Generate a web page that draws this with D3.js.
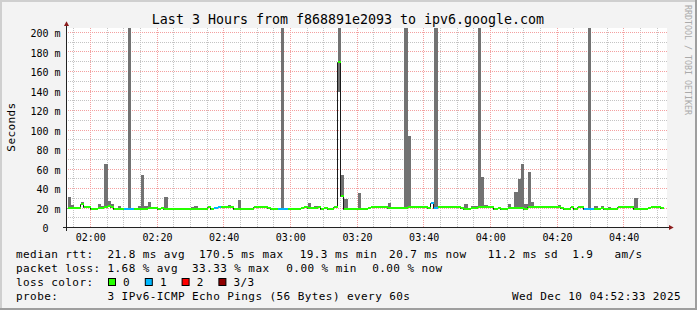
<!DOCTYPE html>
<html>
<head>
<meta charset="utf-8">
<script src="https://cdn.jsdelivr.net/npm/d3@7"></script>
<style>
  html, body { margin: 0; padding: 0; background: #f3f3f3; }
  svg { display: block; }
  svg text { font-family: "DejaVu Sans Mono", monospace; }
</style>
</head>
<body>
<svg id="chart" width="697" height="310"></svg>
<script>
const title = 'Last 3 Hours from f868891e2093 to ipv6.google.com';
const startTime = Date.UTC(2025, 11, 10, 1, 53);
const endTime = Date.UTC(2025, 11, 10, 4, 53);

// median rtt per minute (ms), starting 01:53
const medianRtt = [
  20.5, 20.5, 21, 21, 24.5, 21.8, 21.8, 19.3, 19.3, 20.8,
  20.8, 21.8, 22.5, 21.8, 19.8, 19.8, 19.8, 19.8, 19.8, 19.8,
  19.8, 19.8, 19.8, 19.8, 20.3, 20.3, 20.3, 19.3, 20.5, 19.8,
  19.8, 19.8, 19.8, 19.8, 19.8, 19.8, 19.8, 19.8, 19.8, 19.8,
  19.8, 19.8, 21.5, 19.8, 20.5, 21.8, 21.8, 21.8, 21.8, 21.8,
  19.3, 19.8, 19.8, 19.8, 19.8, 19.8, 21.8, 21.8, 21.8, 22,
  20.5, 19.8, 19.8, 19.8, 19.8, 19.8, 19.8, 19.8, 19.8, 19.3,
  20.5, 21.8, 21, 21, 20.5, 21.2, 19.8, 20.5, 19.8, 19.8,
  21.5, 170.5, 32.5, 19.5, 19.5, 19.3, 19.8, 19.8, 19.8, 19.3,
  20.5, 21.8, 21.8, 21.8, 21.8, 21.8, 21, 21, 21, 21,
  21, 21, 21.8, 21.8, 21.8, 21.8, 21.8, 21.8, 20.8, 25.3,
  20.5, 21.8, 21.8, 21.8, 21.8, 21.8, 21.8, 21.8, 20.5, 19.8,
  19.8, 20.5, 20.5, 21.8, 21.8, 21.8, 21.8, 21.8, 19.8, 20.3,
  19.8, 19.8, 20.8, 20.8, 20.8, 20.8, 20.8, 19.3, 21.8, 21.8,
  21.8, 21.8, 21.8, 21.8, 21.8, 21.8, 21.8, 21.8, 20.3, 19.5,
  19.5, 21.8, 19.5, 21.8, 21.8, 19.8, 19.8, 19.8, 19.8, 19.8,
  20.5, 19.8, 19.8, 19.8, 19.8, 21.2, 21.8, 21.8, 21.8, 21.8,
  19.8, 19.8, 19.8, 19.8, 20.5, 21.8, 21.8, 21.8, 20.7
];

// minutes where 1 of 3 pings was lost
const lossOneMinutes = [17, 18, 19, 44, 45, 63, 64, 65, 109, 110, 155, 156, 157];

// smoke (spread of the pings) where it shows above the median
const smokeMinutes = [0, 1, 4, 9, 10, 11, 12, 13, 15, 18, 21, 22, 23, 24, 29, 37, 38, 48, 51, 64,
  71, 72, 74, 81, 82, 83, 87, 96, 101, 102, 107, 110, 119, 121, 122, 123, 124, 125, 132, 134,
  135, 136, 137, 138, 139, 147, 156, 158, 160, 162, 165, 170];
const smokeLow = [20.5, 20.5, 24.5, 20.8, 20.8, 21.8, 22.5, 21.8, 19.8, 19.8, 19.8, 19.8, 19.8, 20.3, 19.8, 19.8, 19.8, 21.8, 19.8, 19.8,
  21.8, 21, 20.5, 140, 33, 19.5, 19.8, 21, 21, 21.8, 21.8, 20.5, 19.8, 20.5, 20.5, 21.8, 21.8, 21.8, 20.8, 20.8,
  20.8, 20.8, 19.3, 21.8, 21.8, 21.8, 19.8, 19.8, 20.5, 19.8, 21.2, 19.8];
const smokeHigh = [31.8, 23.6, 26.5, 24.6, 22.5, 65.6, 27.7, 24.6, 22.5, 260, 22.5, 54.4, 22.5, 26.7, 31.8, 21.5, 22.8, 23.5, 28.7, 260,
  23, 25.6, 23, 260, 54.4, 29.7, 36.2, 25.6, 260, 94.7, 22, 260, 24.6, 22.5, 22.5, 260, 52.3, 23.6, 24.6, 36.9,
  50.3, 65.6, 24.6, 57.4, 26.7, 23.6, 260, 22.5, 22.5, 21.5, 23, 30.8];

const yTicks = [0, 20, 40, 60, 80, 100, 120, 140, 160, 180, 200];
const yMinorGrid = [10, 30, 50, 70, 90, 110, 130, 150, 170, 190];

const lossLabels = ['0', '1', '2', '3/3'];
const lossColors = ['#26ff00', '#00b8ff', '#ff0000', '#8f0000'];

const rttLegend = [[0, 'median rtt:'], [13, '21.8 ms avg'], [26, '170.5 ms max'], [40.3, '19.3 ms min'],
  [53, '20.7 ms now'], [67, '11.2 ms sd'], [79, '1.9'], [85, 'am/s']];
const lossLegend = [[0, 'packet loss:'], [13, '1.68 % avg'], [25, '33.33 % max'], [38.4, '0.00 % min'], [50.6, '0.00 % now']];
const probeLegend = [[0, 'probe:'], [13, '3 IPv6-ICMP Echo Pings (56 Bytes) every 60s']];
const stampText = 'Wed Dec 10 04:52:33 2025';

const W = 697, H = 310;
const plot = {left: 67, right: 667, top: 28, bottom: 228};
const charW = 7.04;
const gridColor = {minor: '#c4c4c4', major: '#f4a0a0'};

const svg = d3.select('#chart');

const x = d3.scaleUtc()
    .domain([startTime, endTime])
    .range([plot.left, plot.right]);
const y = d3.scaleLinear()
    .domain([0, 200])
    .range([plot.bottom, 33]);

// rrdtool style column mapping
const px = (t) => Math.floor(x(t) + 1e-6) + 1;
const minute = (i) => new Date(startTime + i * 60000);
const gx = (t) => Math.floor(x(t) + 1e-6);
const gy = (v) => Math.round(y(v)) - 1;

// frame
svg.append('rect').attr('width', W).attr('height', H).attr('fill', '#f3f3f3');
svg.append('rect').attr('width', W).attr('height', 2).attr('fill', '#cfcfcf');
svg.append('rect').attr('width', 2).attr('height', H).attr('fill', '#cfcfcf');
svg.append('rect').attr('y', H - 2).attr('width', W).attr('height', 2).attr('fill', '#9e9e9e');
svg.append('rect').attr('x', W - 2).attr('width', 2).attr('height', H).attr('fill', '#9e9e9e');

svg.append('rect')
    .attr('x', plot.left).attr('y', plot.top)
    .attr('width', plot.right - plot.left).attr('height', plot.bottom - plot.top)
    .attr('fill', '#fff');

const defs = svg.append('defs');
defs.append('clipPath').attr('id', 'clip')
  .append('rect')
    .attr('x', plot.left).attr('y', plot.top)
    .attr('width', plot.right - plot.left + 1).attr('height', plot.bottom - plot.top);

// dotted grid: one pixel on, one off
Object.entries(gridColor).forEach(([k, c]) => {
  defs.append('pattern').attr('id', `v-${k}`)
      .attr('patternUnits', 'userSpaceOnUse').attr('width', 1).attr('height', 2)
    .append('rect').attr('width', 1).attr('height', 1).attr('fill', c);
  defs.append('pattern').attr('id', `h-${k}`)
      .attr('patternUnits', 'userSpaceOnUse').attr('width', 2).attr('height', 1)
    .append('rect').attr('width', 1).attr('height', 1).attr('fill', c);
});

const majorTimes = x.ticks(d3.utcMinute.every(20));
const minorTimes = x.ticks(d3.utcMinute.every(5))
    .filter((t) => t.getUTCMinutes() % 20 !== 0);

const grid = svg.append('g').attr('shape-rendering', 'crispEdges');

const vGrid = (times, kind) => grid.append('g').selectAll('rect')
    .data(times)
  .enter().append('rect')
    .attr('x', gx).attr('y', plot.top)
    .attr('width', 1).attr('height', plot.bottom - plot.top)
    .attr('fill', `url(#v-${kind})`);

const hGrid = (values, kind) => grid.append('g').selectAll('rect')
    .data(values)
  .enter().append('rect')
    .attr('x', plot.left).attr('y', gy)
    .attr('width', plot.right - plot.left).attr('height', 1)
    .attr('fill', `url(#h-${kind})`);

vGrid(minorTimes, 'minor');
hGrid(yMinorGrid, 'minor');
vGrid(majorTimes, 'major');
hGrid(yTicks.slice(1), 'major');

// smoke
const data = svg.append('g').attr('clip-path', 'url(#clip)');

data.selectAll('rect.smoke')
    .data(smokeMinutes.map((m, k) => ({m, lo: smokeLow[k], hi: smokeHigh[k]})))
  .enter().append('rect')
    .attr('class', 'smoke')
    .attr('x', (d) => px(minute(d.m)))
    .attr('width', (d) => px(minute(d.m + 1)) - px(minute(d.m)))
    .attr('y', (d) => Math.round(y(d.hi)))
    .attr('height', (d) => Math.round(y(d.lo)) - Math.round(y(d.hi)))
    .attr('fill', '#727272');

// median: thin dark step line, then loss coloured segments on top
const medianPts = medianRtt.map((v, i) => [px(minute(i)) - 0.5, Math.round(y(v)) + 0.5]);
medianPts.push([px(minute(medianRtt.length)), medianPts[medianPts.length - 1][1]]);

data.append('path')
    .attr('d', d3.line().curve(d3.curveStepAfter)(medianPts))
    .attr('fill', 'none')
    .attr('stroke', '#1a1a1a')
    .attr('stroke-width', 1);

data.selectAll('line.median')
    .data(medianRtt)
  .enter().append('line')
    .attr('class', 'median')
    .attr('x1', (d, i) => px(minute(i)))
    .attr('x2', (d, i) => px(minute(i + 1)))
    .attr('y1', (d) => Math.round(y(d)))
    .attr('y2', (d) => Math.round(y(d)))
    .attr('stroke', (d, i) => lossColors[lossOneMinutes.includes(i) ? 1 : 0])
    .attr('stroke-width', 2);

// axes
svg.append('g')
    .attr('transform', `translate(${plot.left},0)`)
    .call(d3.axisLeft(y).tickValues(yTicks).tickSize(0).tickPadding(6.5)
      .tickFormat((v) => v === 0 ? '0  ' : `${v} m`))
    .call((g) => g.select('.domain').remove())
    .call((g) => g.selectAll('.tick line').remove())
    .call((g) => g.selectAll('text')
      .attr('dy', '0.37em')
      .attr('xml:space', 'preserve')
      .style('white-space', 'pre')
      .attr('font-family', '"DejaVu Sans Mono", monospace')
      .attr('font-size', 10)
      .attr('fill', '#000'));

svg.append('g')
    .attr('transform', `translate(0,${plot.bottom})`)
    .call(d3.axisBottom(x).ticks(d3.utcMinute.every(20)).tickFormat(d3.utcFormat('%H:%M'))
      .tickSize(0).tickPadding(5.6))
    .call((g) => g.select('.domain').remove())
    .call((g) => g.selectAll('.tick line').remove())
    .call((g) => g.selectAll('text')
      .attr('font-family', '"DejaVu Sans Mono", monospace')
      .attr('font-size', 10)
      .attr('fill', '#000'));

svg.append('line')
    .attr('x1', 66.5).attr('x2', 66.5).attr('y1', 231).attr('y2', 23)
    .attr('stroke', '#222');
svg.append('line')
    .attr('x1', 63).attr('x2', 670).attr('y1', 227.5).attr('y2', 227.5)
    .attr('stroke', '#222');
svg.append('path').attr('d', 'M64,26 L66.5,21.3 L69,26 Z').attr('fill', '#8b1c1c');
svg.append('path').attr('d', 'M669,225 L673.7,227.5 L669,230 Z').attr('fill', '#8b1c1c');

// texts
svg.append('text')
    .attr('x', 348).attr('y', 24)
    .attr('text-anchor', 'middle')
    .attr('font-size', 13.3)
    .text(title);

svg.append('text')
    .attr('transform', 'translate(15,127) rotate(-90)')
    .attr('text-anchor', 'middle')
    .attr('font-size', 11)
    .attr('letter-spacing', 0.42)
    .text('Seconds');

svg.append('text')
    .attr('transform', 'translate(684.5,5) rotate(90)')
    .attr('font-size', 8.3)
    .attr('fill', '#aaaaaa')
    .text('RRDTOOL / TOBI OETIKER');

const legend = svg.append('g')
    .attr('font-size', 11)
    .attr('letter-spacing', 0.42)
    .attr('xml:space', 'preserve');

const legendRow = (items, baseline) => {
  legend.append('g').selectAll('text')
      .data(items)
    .enter().append('text')
      .attr('x', (d) => 16 + d[0] * charW)
      .attr('y', baseline)
      .text((d) => d[1]);
};

legendRow(rttLegend, 258);
legendRow(lossLegend, 272);
legendRow([[0, 'loss color:']], 286);
legendRow(probeLegend, 300);

legend.append('text')
    .attr('x', 681).attr('y', 300)
    .attr('text-anchor', 'end')
    .text(stampText);

const swatch = legend.append('g').selectAll('g')
    .data(lossLabels)
  .enter().append('g')
    .attr('transform', (d, i) => `translate(${108.5 + i * 36.8},278.5)`);

swatch.append('rect')
    .attr('width', 7).attr('height', 7)
    .attr('fill', (d, i) => lossColors[i])
    .attr('stroke', '#000');

swatch.append('text')
    .attr('x', 14.6).attr('y', 7.5)
    .text((d) => d);
</script>
</body>
</html>
